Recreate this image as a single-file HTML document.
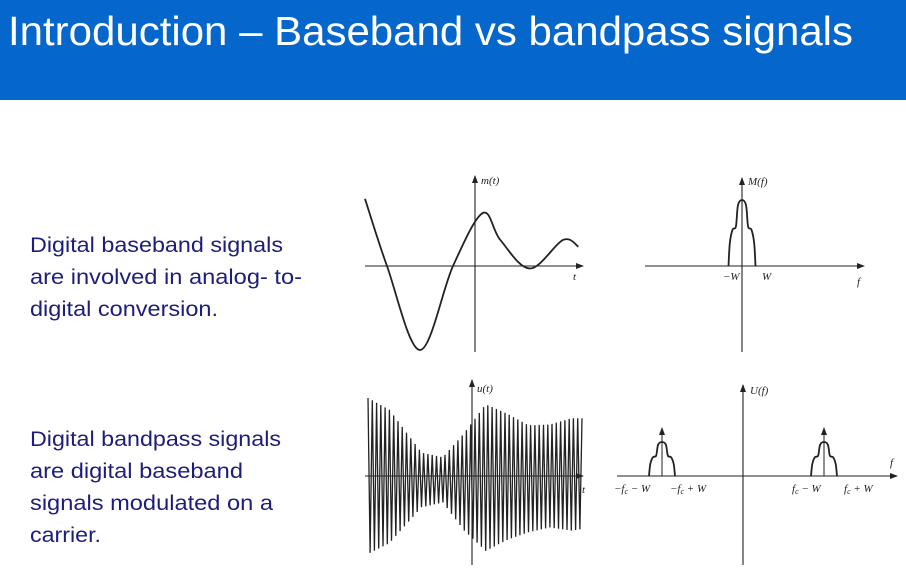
<!DOCTYPE html>
<html><head><meta charset="utf-8"><style>
html,body{margin:0;padding:0;background:#fff;}
svg{display:block;font-family:"Liberation Sans",sans-serif;}
.it{font-family:"Liberation Serif",serif;font-style:italic;font-size:11px;fill:#222;}
.bt{font-size:21px;fill:#1d1d7a;}
</style></head><body>
<svg width="906" height="568" viewBox="0 0 906 568">
<rect x="0" y="0" width="906" height="100" fill="#0566cc"/>
<text x="8" y="45" font-size="41" fill="#fff" textLength="845" lengthAdjust="spacingAndGlyphs">Introduction – Baseband vs bandpass signals</text>

<g>
<text class="bt" x="30" y="252" textLength="253" lengthAdjust="spacingAndGlyphs">Digital baseband signals</text>
<text class="bt" x="30" y="284" textLength="272" lengthAdjust="spacingAndGlyphs">are involved in analog-  to-</text>
<text class="bt" x="30" y="316" textLength="188" lengthAdjust="spacingAndGlyphs">digital conversion.</text>
</g>
<g>
<text class="bt" x="30" y="446" textLength="251" lengthAdjust="spacingAndGlyphs">Digital bandpass signals</text>
<text class="bt" x="30" y="478" textLength="213" lengthAdjust="spacingAndGlyphs">are digital baseband</text>
<text class="bt" x="30" y="510" textLength="243" lengthAdjust="spacingAndGlyphs">signals modulated on a</text>
<text class="bt" x="30" y="542" textLength="71" lengthAdjust="spacingAndGlyphs">carrier.</text>
</g>

<defs><marker id="ar" markerWidth="8" markerHeight="6" refX="7" refY="3" orient="auto" markerUnits="userSpaceOnUse"><path d="M0,0 L8,3 L0,6 Z" fill="#222"/></marker></defs>

<g stroke="#222" stroke-width="1.1">
<line x1="365" y1="266" x2="583" y2="266" marker-end="url(#ar)"/>
<line x1="475" y1="352" x2="475" y2="176" marker-end="url(#ar)"/>
</g>
<text class="it" x="481" y="184">m(t)</text>
<text class="it" x="573" y="280">t</text>
<path id="mcurve" fill="none" stroke="#222" stroke-width="1.8"/>

<g stroke="#222" stroke-width="1.1">
<line x1="645" y1="266" x2="864" y2="266" marker-end="url(#ar)"/>
<line x1="742" y1="352" x2="742" y2="178" marker-end="url(#ar)"/>
</g>
<text class="it" x="748" y="185">M(f)</text>
<text class="it" x="723" y="280">−W</text>
<text class="it" x="762" y="280">W</text>
<text class="it" x="857" y="285">f</text>
<path id="mspec" fill="none" stroke="#222" stroke-width="1.8"/>

<path id="ucurve" fill="none" stroke="#222" stroke-width="1.3"/>
<g stroke="#222" stroke-width="1.1">
<line x1="365" y1="476" x2="583" y2="476" marker-end="url(#ar)"/>
<line x1="472" y1="565" x2="472" y2="380" marker-end="url(#ar)"/>
</g>
<text class="it" x="477" y="392">u(t)</text>
<text class="it" x="582" y="493">t</text>

<g stroke="#222" stroke-width="1.1">
<line x1="617" y1="476" x2="897" y2="476" marker-end="url(#ar)"/>
<line x1="743" y1="565" x2="743" y2="385" marker-end="url(#ar)"/>
</g>
<text class="it" x="750" y="394">U(f)</text>
<text class="it" x="890" y="466">f</text>
<text class="it" x="614" y="492">−f<tspan font-size="8" dy="2">c</tspan><tspan dy="-2"> − W</tspan></text>
<text class="it" x="670" y="492">−f<tspan font-size="8" dy="2">c</tspan><tspan dy="-2"> + W</tspan></text>
<text class="it" x="792" y="492">f<tspan font-size="8" dy="2">c</tspan><tspan dy="-2"> − W</tspan></text>
<text class="it" x="844" y="492">f<tspan font-size="8" dy="2">c</tspan><tspan dy="-2"> + W</tspan></text>
<g id="ufspec"></g>
</svg>
<script>
const mTimes=[-1.0,-0.8,-0.5,-0.2,0.07,0.23,0.5,0.8,0.94];
const mValues=[0.8,0,-1.0,0,0.63,0.31,-0.03,0.31,0.23];
const mfFreq=[-1,-0.9,-0.7,-0.45,-0.3,0,0.3,0.45,0.7,0.9,1];
const mfMag=[0,0.35,0.55,0.6,0.92,1,0.92,0.6,0.55,0.35,0];
const uTimes=[-1,-0.8,-0.5,-0.3,-0.1,0.1,0.3,0.5,0.7,0.9,1.0];
const uUpper=[1,0.85,0.3,0.24,0.55,0.92,0.8,0.65,0.66,0.74,0.74];
const uLower=[1,0.86,0.4,0.34,0.7,0.96,0.82,0.72,0.66,0.7,0.68];
const carrierCycles=50;
const ufCentres=[-1,1];

const mx=t=>475+t*110, my=v=>266-v*84;
function smooth(pts){let d=`M${pts[0][0]},${pts[0][1]}`;for(let i=0;i<pts.length-1;i++){const p0=pts[i-1]||pts[i],p1=pts[i],p2=pts[i+1],p3=pts[i+2]||p2;
d+=` C${p1[0]+(p2[0]-p0[0])/6},${p1[1]+(p2[1]-p0[1])/6} ${p2[0]-(p3[0]-p1[0])/6},${p2[1]-(p3[1]-p1[1])/6} ${p2[0]},${p2[1]}`;}return d;}
document.getElementById('mcurve').setAttribute('d',smooth(mTimes.map((t,i)=>[mx(t),my(mValues[i])])));
const fx=f=>742+f*13.5, fy=v=>266-v*66;
document.getElementById('mspec').setAttribute('d',smooth(mfFreq.map((f,i)=>[fx(f),fy(mfMag[i])])));
function interp(xs,ys,x){for(let i=0;i<xs.length-1;i++){if(x<=xs[i+1]){const k=(x-xs[i])/(xs[i+1]-xs[i]);return ys[i]+k*(ys[i+1]-ys[i]);}}return ys[ys.length-1];}
const ux=t=>475+t*107, uy=v=>476-v*78;
let d='';const N=carrierCycles*2;
for(let k=0;k<=N;k++){const t=-1+2*k/N;const up=k%2===0;const a=up?interp(uTimes,uUpper,t):-interp(uTimes,uLower,t);d+=(k?' L':'M')+ux(t).toFixed(1)+','+uy(a).toFixed(1);}
document.getElementById('ucurve').setAttribute('d',d);
const g=document.getElementById('ufspec');const NS='http://www.w3.org/2000/svg';
ufCentres.forEach(c=>{const cx=743+c*81;
const p=document.createElementNS(NS,'path');


p.setAttribute('d',smooth(mfFreq.map((f,i)=>[cx+f*13,476-mfMag[i]*34])));
p.setAttribute('fill','none');p.setAttribute('stroke','#222');p.setAttribute('stroke-width','1.8');g.appendChild(p);
const l=document.createElementNS(NS,'line');


l.setAttribute('x1',cx);l.setAttribute('x2',cx);l.setAttribute('y1',476);l.setAttribute('y2',428);l.setAttribute('stroke','#222');l.setAttribute('marker-end','url(#ar)');g.appendChild(l);});
</script>
</body></html>
